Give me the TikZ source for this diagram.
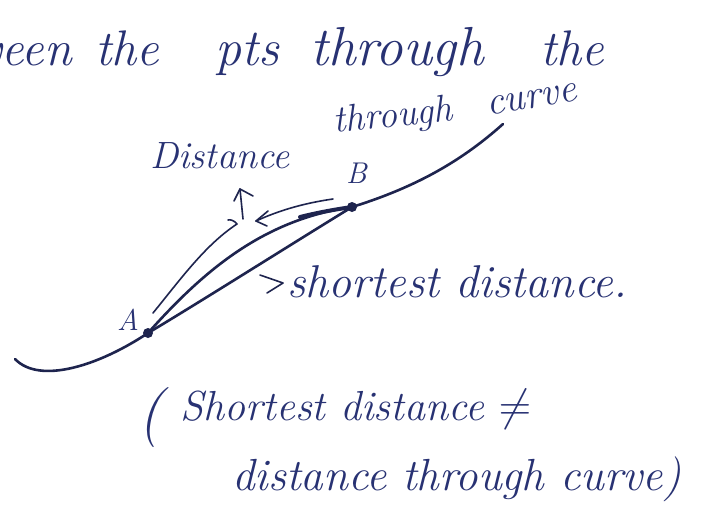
\documentclass[tikz,border=0pt]{standalone}
\usetikzlibrary{arrows.meta}
\definecolor{ink}{RGB}{40,50,115}
\definecolor{darkink}{RGB}{30,36,78}
\begin{document}
\begin{tikzpicture}[x=1pt,y=-1pt,
  word/.style={anchor=base west,inner sep=0pt,text=ink,font=\itshape\fontsize{#1}{#1}\selectfont},
  curveline/.style={draw=darkink,line width=2.6pt,line cap=round},
  thinline/.style={draw=darkink,line width=1.6pt,line cap=round,line join=round}]
\useasboundingbox (0,0) rectangle (701,509);
\fill[white] (0,0) rectangle (701,509);
% top line
\node[word=50,anchor=base east] (w1) at (72,65) {ween};
\node[word=50] (w2) at (95,65) {the};
\node[word=52] (w3) at (215,65) {pts};
\node[word=55] (w4) at (310,65) {through};
\node[word=50] (w5) at (540,65) {the};
% second line
\node[word=38] (d1) at (150,168) {Distance};
\node[word=38,rotate=6] (d2) at (334,133) {through};
\node[word=40,rotate=10] (d3) at (488,116) {curve};
% points
\coordinate (A) at (148,333);
\coordinate (B) at (352,207);
\node[word=30] (la) at (117,330) {A};
\node[word=30] (lb) at (346,183) {B};
% main curve
\coordinate (c0) at (15,359);
\coordinate (c1) at (503,124);
\draw[curveline] (c0) .. controls (40,385) and (100,365) .. (A);
\draw[curveline] (A) .. controls (200,302) and (290,245) .. (B);
\draw[curveline] (B) .. controls (420,186) and (465,158) .. (c1);
% upper thick curve
\draw[curveline] (A) .. controls (200,275) and (260,220) .. (B);
\draw[draw=darkink,line width=4pt,line cap=round] (300,217) .. controls (320,212) and (338,209) .. (B);
\fill[darkink] (A) circle (5pt);
\fill[darkink] (B) circle (5pt);
% brace arrows
\coordinate (l0) at (153,313);
\coordinate (l1) at (237,224);
\draw[thinline] (l0) .. controls (180,280) and (205,245) .. (l1) .. controls (235,221) and (230,219) .. (228,220);
\coordinate (u0) at (243,219);
\coordinate (u1) at (240,189);
\draw[thinline] (u0) -- (u1);
\draw[thinline] (234,201) -- (u1) -- (253,196);
\coordinate (r0) at (333,199);
\coordinate (r1) at (256,221);
\draw[thinline] (r0) .. controls (305,203) and (280,210) .. (r1);
\draw[thinline] (268,211) -- (r1) -- (267,226);
% shortest distance label
\coordinate (g0) at (260,275);
\coordinate (g1) at (283,283);
\coordinate (g2) at (267,293);
\draw[thinline] (g0) -- (g1) -- (g2);
\node[word=46] (sd) at (287,297) {shortest distance.};
% bottom
\node[word=60] (p1) at (138,432) {(};
\node[word=42] (b1) at (180,420) {Shortest distance \scalebox{1.8}{$\neq$}};
\node[word=45] (b2) at (232,490) {distance through curve)};
\end{tikzpicture}
\end{document}
